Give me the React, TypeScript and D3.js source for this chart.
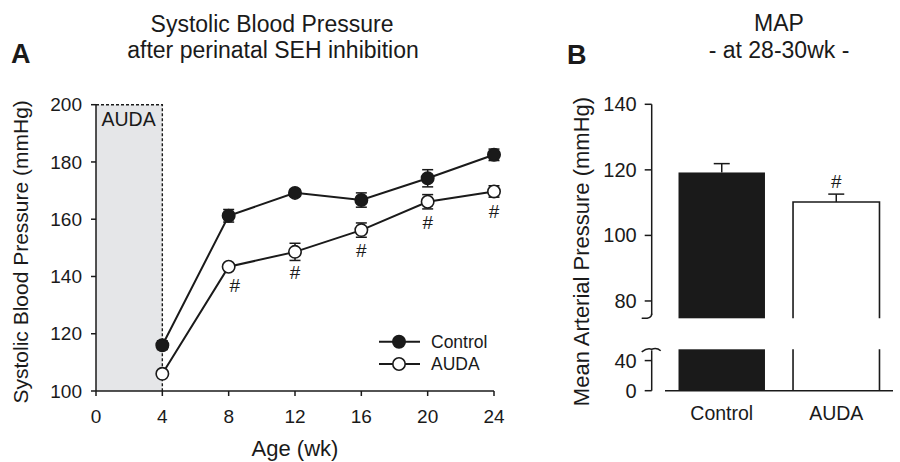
import React from "react";
import * as d3 from "d3";

// Panel A: systolic BP by age
const ages = [4, 8, 12, 16, 20, 24];
const controlSBP = [116, 161.2, 169.2, 166.7, 174.3, 182.5];
const controlSE = [1.5, 2.2, 1.2, 2.5, 3, 2];
const audaSBP = [106, 143.4, 148.6, 156.2, 166.1, 169.7];
const audaSE = [1, 1, 3, 2.5, 2.5, 2];
const audaSig = [false, true, true, true, true, true];
const ageTicks = [0, 4, 8, 12, 16, 20, 24];
const sbpTicks = [100, 120, 140, 160, 180, 200];
const treatmentWindow = [0, 4];

// Panel B: MAP at 28-30wk
const mapGroups = ["Control", "AUDA"];
const mapValues = [119.2, 110.2];
const mapSE = [2.7, 2.4];
const mapSig = [false, true];
const mapUpperTicks = [80, 100, 120, 140];
const mapLowerTicks = [0, 40];

const FONT = "'Liberation Sans', Arial, Helvetica, sans-serif";
const INK = "#1a1a1a";

export default function App() {
  const W = 900;
  const H = 462;

  // ---- panel A scales
  const x = d3.scaleLinear().domain([0, 24]).range([96, 494]);
  const y = d3.scaleLinear().domain([100, 200]).range([391, 104.7]);

  const line = d3
    .line<number>()
    .x((_, i) => x(ages[i]))
    .y((d) => y(d));

  const series = [
    { name: "Control", values: controlSBP, se: controlSE, fill: INK },
    { name: "AUDA", values: audaSBP, se: audaSE, fill: "#fff" },
  ];

  // ---- panel B scales
  const bx = d3.scaleBand().domain(mapGroups).range([665, 893]).paddingInner(0.245).paddingOuter(0.118);
  const yUp = d3.scaleLinear().domain([75.2, 140]).range([316.7, 104.3]);
  const yLo = d3.scaleLinear().domain([0, 55]).range([390.7, 349.3]);
  const bAxisX = 651.7;
  const upBottom = yUp(75.2);
  const loTop = yLo(55);

  const r = 6.2;

  return (
    <svg
      width={W}
      height={H}
      viewBox={`0 0 ${W} ${H}`}
      style={{ position: "absolute", left: 0, top: 0, background: "#fff" }}
      fontFamily={FONT}
    >
      <rect width={W} height={H} fill="#fff" />

      {/* ================= Panel A ================= */}
      <text x={11} y={63} fontSize={27} fontWeight="bold" fill={INK}>A</text>
      <text x={272} y={32} fontSize={23} textAnchor="middle" fill={INK}>Systolic Blood Pressure</text>
      <text x={273} y={58} fontSize={23} textAnchor="middle" fill={INK}>after perinatal SEH inhibition</text>

      {/* AUDA treatment window */}
      <rect
        x={x(treatmentWindow[0])}
        y={y(200)}
        width={x(treatmentWindow[1]) - x(treatmentWindow[0])}
        height={y(100) - y(200)}
        fill="#e5e6e8"
      />
      <path
        d={`M${x(treatmentWindow[0])},${y(200)}H${x(treatmentWindow[1])}V${y(100)}`}
        fill="none"
        stroke={INK}
        strokeWidth={1.4}
        strokeDasharray="3,2"
      />
      <text x={x(0) + 5.5} y={y(200) + 21} fontSize={19.5} fill={INK}>AUDA</text>

      {/* y axis */}
      <line x1={x(0)} x2={x(0)} y1={y(100)} y2={y(200)} stroke={INK} strokeWidth={1.5} />
      {sbpTicks.map((t) => (
        <g key={t}>
          <line x1={x(0) - 5} x2={x(0)} y1={y(t)} y2={y(t)} stroke={INK} strokeWidth={1.5} />
          <text x={x(0) - 14} y={y(t) + 6.7} fontSize={19} textAnchor="end" fill={INK}>{t}</text>
        </g>
      ))}
      <text
        transform={`translate(28,${(y(100) + y(200)) / 2 + 4}) rotate(-90)`}
        fontSize={21}
        textAnchor="middle"
        fill={INK}
      >
        Systolic Blood Pressure (mmHg)
      </text>

      {/* x axis */}
      <line x1={x(0)} x2={x(24)} y1={y(100)} y2={y(100)} stroke={INK} strokeWidth={1.5} />
      {ageTicks.map((t) => (
        <g key={t}>
          <line x1={x(t)} x2={x(t)} y1={y(100)} y2={y(100) + 5} stroke={INK} strokeWidth={1.5} />
          <text x={x(t)} y={y(100) + 32} fontSize={19} textAnchor="middle" fill={INK}>{t}</text>
        </g>
      ))}
      <text x={x(12)} y={456} fontSize={22} textAnchor="middle" fill={INK}>Age (wk)</text>

      {/* series */}
      {series.map((s) => (
        <g key={s.name}>
          <path d={line(s.values) || ""} fill="none" stroke={INK} strokeWidth={2} />
          {s.values.map((v, i) => (
            <g key={i}>
              <line x1={x(ages[i])} x2={x(ages[i])} y1={y(v - s.se[i])} y2={y(v + s.se[i])} stroke={INK} strokeWidth={1.5} />
              <line x1={x(ages[i]) - 5.5} x2={x(ages[i]) + 5.5} y1={y(v + s.se[i])} y2={y(v + s.se[i])} stroke={INK} strokeWidth={1.5} />
              <line x1={x(ages[i]) - 5.5} x2={x(ages[i]) + 5.5} y1={y(v - s.se[i])} y2={y(v - s.se[i])} stroke={INK} strokeWidth={1.5} />
              <circle cx={x(ages[i])} cy={y(v)} r={r} fill={s.fill} stroke={INK} strokeWidth={1.6} />
            </g>
          ))}
        </g>
      ))}

      {/* significance marks */}
      {audaSBP.map((v, i) =>
        audaSig[i] ? (
          <text
            key={i}
            x={x(ages[i]) + (i === 1 ? 6 : 0)}
            y={y(v) + (i === 1 ? 25 : 27)}
            fontSize={19}
            textAnchor="middle"
            fill={INK}
          >
            #
          </text>
        ) : null
      )}

      {/* legend */}
      {series.map((s, i) => (
        <g key={s.name} transform={`translate(379,${341.7 + i * 22.3})`}>
          <line x1={0} x2={41} y1={0} y2={0} stroke={INK} strokeWidth={2} />
          <circle cx={20} cy={0} r={r} fill={s.fill} stroke={INK} strokeWidth={1.6} />
          <text x={52} y={6.3} fontSize={17.5} fill={INK}>{s.name}</text>
        </g>
      ))}

      {/* ================= Panel B ================= */}
      <text x={567} y={64} fontSize={27} fontWeight="bold" fill={INK}>B</text>
      <text x={779} y={31} fontSize={23} textAnchor="middle" fill={INK}>MAP</text>
      <text x={779} y={58} fontSize={23} textAnchor="middle" fill={INK}>- at 28-30wk -</text>

      {/* y axis, upper part */}
      <line x1={bAxisX} x2={bAxisX} y1={yUp(140)} y2={upBottom - 2} stroke={INK} strokeWidth={1.5} />
      <path
        d={`M${bAxisX},${upBottom - 3}Q${bAxisX},${upBottom + 2.5} ${bAxisX - 10},${upBottom + 1.5}`}
        fill="none"
        stroke={INK}
        strokeWidth={1.5}
      />
      {mapUpperTicks.map((t) => (
        <g key={t}>
          <line x1={bAxisX - 7} x2={bAxisX} y1={yUp(t)} y2={yUp(t)} stroke={INK} strokeWidth={1.5} />
          <text x={bAxisX - 15} y={yUp(t) + 7} fontSize={20} textAnchor="end" fill={INK}>{t}</text>
        </g>
      ))}

      {/* y axis, lower part */}
      <line x1={bAxisX} x2={bAxisX} y1={loTop + 1} y2={yLo(0)} stroke={INK} strokeWidth={1.5} />
      <path
        d={`M${bAxisX - 10},${loTop + 2.5}Q${bAxisX - 4},${loTop - 2} ${bAxisX},${loTop}Q${bAxisX + 5},${loTop - 2} ${bAxisX + 9},${loTop + 1.5}`}
        fill="none"
        stroke={INK}
        strokeWidth={1.5}
      />
      {mapLowerTicks.map((t) => (
        <g key={t}>
          <line x1={bAxisX - 7} x2={bAxisX} y1={yLo(t)} y2={yLo(t)} stroke={INK} strokeWidth={1.5} />
          <text x={bAxisX - 15} y={yLo(t) + 7} fontSize={20} textAnchor="end" fill={INK}>{t}</text>
        </g>
      ))}
      <text
        transform={`translate(589,${(yUp(140) + yLo(0)) / 2 + 4}) rotate(-90)`}
        fontSize={22}
        textAnchor="middle"
        fill={INK}
      >
        Mean Arterial Pressure (mmHg)
      </text>

      {/* bars (broken) */}
      {mapGroups.map((g, i) => {
        const x0 = bx(g) ?? 0;
        const bw = bx.bandwidth();
        const top = yUp(mapValues[i]);
        const errTop = yUp(mapValues[i] + mapSE[i]);
        const cx = x0 + bw / 2;
        const filled = i === 0;
        return (
          <g key={g}>
            <line x1={cx} x2={cx} y1={top} y2={errTop} stroke={INK} strokeWidth={1.5} />
            <line x1={cx - 8} x2={cx + 8} y1={errTop} y2={errTop} stroke={INK} strokeWidth={1.5} />
            {filled ? (
              <>
                <rect x={x0} y={top} width={bw} height={upBottom + 1.6 - top} fill={INK} />
                <rect x={x0} y={loTop} width={bw} height={yLo(0) - loTop} fill={INK} />
              </>
            ) : (
              <>
                <path
                  d={`M${x0},${upBottom + 1.6}V${top}H${x0 + bw}V${upBottom + 1.6}`}
                  fill="#fff"
                  stroke={INK}
                  strokeWidth={1.6}
                />
                <path d={`M${x0},${loTop}V${yLo(0)}M${x0 + bw},${loTop}V${yLo(0)}`} stroke={INK} strokeWidth={1.6} />
              </>
            )}
            {mapSig[i] ? (
              <text x={cx} y={errTop - 6} fontSize={19} textAnchor="middle" fill={INK}>#</text>
            ) : null}
            <text x={cx} y={420} fontSize={19.5} textAnchor="middle" fill={INK}>{g}</text>
          </g>
        );
      })}
      <line x1={665} x2={893} y1={yLo(0)} y2={yLo(0)} stroke={INK} strokeWidth={1.5} />
    </svg>
  );
}
